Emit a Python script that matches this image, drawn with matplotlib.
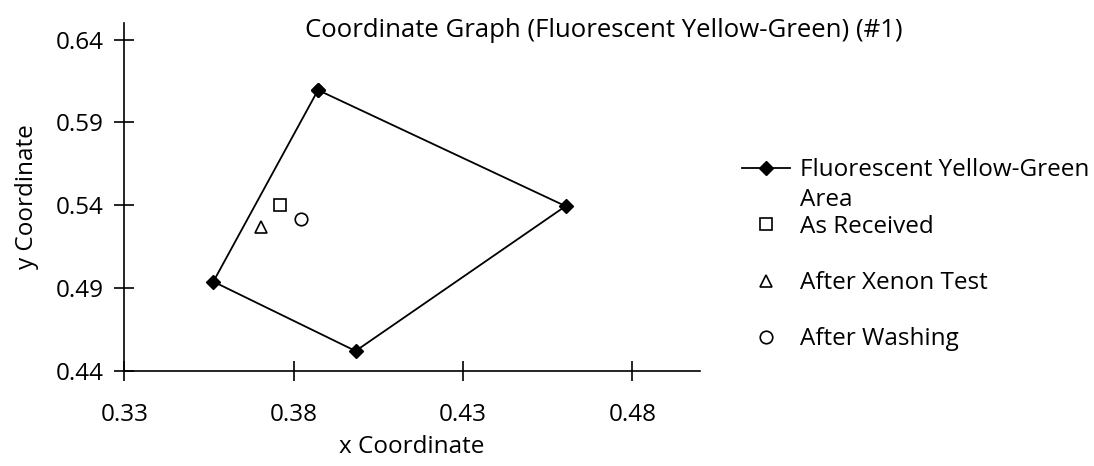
import matplotlib
matplotlib.use('Agg')
import matplotlib.pyplot as plt

plt.rcParams['font.family'] = ['Open Sans', 'DejaVu Sans']

# area corners (closed polygon)
area_x = [0.3872, 0.4603, 0.3983, 0.3563, 0.3872]
area_y = [0.6095, 0.5394, 0.4519, 0.4938, 0.6095]

received_x = [0.3761]
received_y = [0.5398]
xenon_x = [0.3703]
xenon_y = [0.5267]
washing_x = [0.3821]
washing_y = [0.5319]

xticks = [0.33, 0.38, 0.43, 0.48]
yticks = [0.44, 0.49, 0.54, 0.59, 0.64]

fig = plt.figure(figsize=(10.94, 4.66), dpi=100)
ax = fig.add_axes([0.1136, 0.2045, 0.5263, 0.7461])

ax.plot(area_x, area_y, color='black', lw=1.3, marker='D', ms=7,
        label='Fluorescent Yellow-Green')
ax.plot(received_x, received_y, ls='none', marker='s', ms=8, mfc='white',
        mec='black', mew=1.2, label='As Received')
ax.plot(xenon_x, xenon_y, ls='none', marker='^', ms=9, mfc='white',
        mec='black', mew=1.2, label='After Xenon Test')
ax.plot(washing_x, washing_y, ls='none', marker='o', ms=9, mfc='white',
        mec='black', mew=1.2, label='After Washing')

ax.set_xlim(0.33, 0.50)
ax.set_ylim(0.44, 0.65)
ax.set_xticks(xticks)
ax.set_xticklabels(['%.2f' % v for v in xticks])
ax.set_yticks(yticks)
ax.set_yticklabels(['%.2f' % v for v in yticks])
for s in ['top', 'right']:
    ax.spines[s].set_visible(False)
for s in ['left', 'bottom']:
    ax.spines[s].set_linewidth(1.2)
ax.tick_params(axis='both', direction='inout', length=14, width=1.2,
               labelsize=17.5, colors='black')
ax.tick_params(axis='x', pad=16)
ax.tick_params(axis='y', pad=8)

ax.set_xlabel('x Coordinate', fontsize=17.5, labelpad=6)
ax.set_ylabel('y Coordinate', fontsize=17.5, labelpad=12)

fig.text(0.552, 0.935, 'Coordinate Graph (Fluorescent Yellow-Green) (#1)',
         ha='center', va='center', fontsize=18.5)

leg = ax.legend(loc='upper left', bbox_to_anchor=(0.678, 0.66),
                bbox_transform=fig.transFigure, frameon=False,
                fontsize=17.5, handlelength=2.0, handletextpad=0.4,
                labelspacing=1.33, borderpad=0, borderaxespad=0)

# wrapped second line of the first legend label
fig.canvas.draw()
bb = leg.get_texts()[0].get_window_extent()
x0, y0 = fig.transFigure.inverted().transform((bb.x0, bb.y0 - 30))
fig.text(x0, y0, 'Area', fontsize=17.5, ha='left', va='bottom')

plt.savefig('out.png', dpi=100)
plt.close()
